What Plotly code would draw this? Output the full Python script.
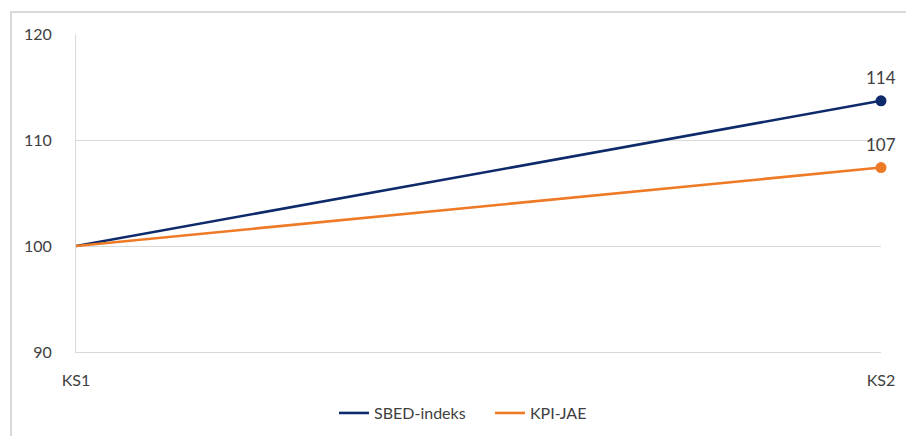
import plotly.graph_objects as go

# Quarter categories and index series (KS1 = 100)
quarters = ["KS1", "KS2"]
sbed_index = [100, 113.7]
kpi_jae = [100, 107.4]
series_names = ["SBED-indeks", "KPI-JAE"]
series_colors = ["#0E2A6B", "#EE7A26"]
y_ticks = [90, 100, 110, 120]

font_family = "Lato, 'Open Sans', sans-serif"
text_color = "#404040"

fig = go.Figure()
for name, values, color in zip(series_names, [sbed_index, kpi_jae], series_colors):
    # data line with an end-point marker
    fig.add_trace(go.Scatter(
        x=quarters,
        y=values,
        name=name,
        mode="lines+markers",
        line=dict(color=color, width=2.6),
        marker=dict(color=color, size=[0, 11], opacity=1, line=dict(width=0)),
        cliponaxis=False,
        showlegend=False,
    ))
    # legend entry drawn as a plain line
    fig.add_trace(go.Scatter(
        x=[None], y=[None], name=name, mode="lines",
        line=dict(color=color, width=2.6),
    ))
    # value label above the last point
    fig.add_annotation(
        x=quarters[-1], y=values[-1], text=f"{values[-1]:.0f}",
        showarrow=False, yshift=23,
        font=dict(family=font_family, size=17, color=text_color),
    )

# Light outer chart frame
fig.add_shape(type="rect", xref="paper", yref="paper",
              x0=-0.0807, x1=1.05, y0=-0.35, y1=1.069,
              line=dict(color="#D9D9D9", width=2), fillcolor="rgba(0,0,0,0)",
              layer="below")

fig.update_layout(
    width=906, height=436,
    margin=dict(l=76, r=25, t=34, b=84, autoexpand=False),
    paper_bgcolor="white",
    plot_bgcolor="white",
    font=dict(family=font_family, size=16, color=text_color),
    showlegend=True,
    legend=dict(orientation="h", xanchor="left", x=0.3205,
                yanchor="middle", y=-0.192,
                entrywidth=111, entrywidthmode="pixels",
                font=dict(family=font_family, size=16, color=text_color),
                traceorder="normal"),
    xaxis=dict(
        type="category",
        range=[0, 1],
        showgrid=False,
        showline=True, linecolor="#D9D9D9", linewidth=1,
        ticks="", ticklabelstandoff=14,
        fixedrange=True,
    ),
    yaxis=dict(
        range=[90, 120],
        tickvals=y_ticks,
        showgrid=True, gridcolor="#D9D9D9", gridwidth=1,
        zeroline=False,
        showline=True, linecolor="#D9D9D9", linewidth=1,
        ticks="", ticklabelstandoff=20,
        fixedrange=True,
    ),
)

fig.write_html("out.html")
